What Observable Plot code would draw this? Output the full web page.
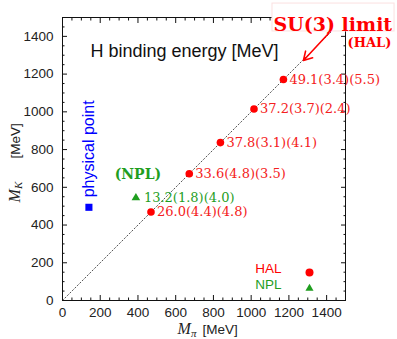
<!DOCTYPE html>
<html><head><meta charset="utf-8">
<script src="https://cdn.jsdelivr.net/npm/d3@7"></script>
<script src="https://cdn.jsdelivr.net/npm/@observablehq/plot@0.6"></script>
<style>html,body{margin:0;padding:0;background:#fff}#chart svg{display:block}</style>
</head><body><div id="chart"></div>
<script>
// HAL QCD points (M_pi = M_K, SU(3) symmetric)
const halMpi = [469, 672, 837, 1015, 1171];
const halMK = [469, 672, 837, 1015, 1171];
const halLabels = ["26.0(4.4)(4.8)", "33.6(4.8)(3.5)", "37.8(3.1)(4.1)", "37.2(3.7)(2.4)", "49.1(3.4)(5.5)"];
// NPLQCD point
const nplMpi = [389];
const nplMK = [544];
const nplLabels = ["13.2(1.8)(4.0)"];
// physical point
const physMpi = [140];
const physMK = [494];
// SU(3) limit line (M_K = M_pi)
const su3Line = [0, 1450];
// annotation arrow [x, y] from/to
const arrowFrom = [1410, 1415];
const arrowTo = [1277, 1272];
const su3Box = [1113, 1760, 1426, 1574];
// ticks
const majorTicks = [0, 200, 400, 600, 800, 1000, 1200, 1400];
const minorTicks = [50, 100, 150, 250, 300, 350, 450, 500, 550, 650, 700, 750, 850, 900, 950, 1050, 1100, 1150, 1250, 1300, 1350, 1450];
const legendNames = ["HAL", "NPL"];

const RED = "#ff0000", RED_T = "#f42020", GREEN = "#1f9e1f", BLUE = "#0000ff";
const SANS = "'Liberation Sans', Arial, Helvetica, sans-serif";
const SERIF = "'DejaVu Serif', serif";
const TSERIF = "'Liberation Serif', 'Times New Roman', serif";

const hal = halMpi.map((m, i) => ({mpi: m, mk: halMK[i], label: halLabels[i]}));
const npl = nplMpi.map((m, i) => ({mpi: m, mk: nplMK[i], label: nplLabels[i]}));
const phys = physMpi.map((m, i) => ({mpi: m, mk: physMK[i]}));

const tickAxes = [];
for (const [ticks, len] of [[majorTicks, 5], [minorTicks, 2.5]]) {
  tickAxes.push(
    Plot.axisY(ticks, {anchor: "left", tickSize: len, dx: len, fill: "none", label: null, stroke: "#111"}),
    Plot.axisY(ticks, {anchor: "right", tickSize: len, dx: -len, fill: "none", label: null, stroke: "#111"}),
    Plot.axisX(ticks, {anchor: "bottom", tickSize: len, dy: -len, fill: "none", label: null, stroke: "#111"}),
    Plot.axisX(ticks, {anchor: "top", tickSize: len, dy: len, fill: "none", label: null, stroke: "#111"})
  );
}

const chart = Plot.plot({
  width: 397, height: 339,
  marginLeft: 62, marginRight: 52, marginTop: 17, marginBottom: 39,
  style: {fontFamily: SANS, fontSize: "13.5px", color: "#222", background: "white", overflow: "visible"},
  x: {domain: [0, 1500], axis: null},
  y: {domain: [0, 1500], axis: null},
  marks: [
    Plot.line(su3Line, {x: d => d, y: d => d, stroke: "#555", strokeWidth: 1, strokeDasharray: "1.3,2.2"}),
    Plot.frame({stroke: "#111", strokeWidth: 1}),
    ...tickAxes,
    Plot.axisY(majorTicks, {anchor: "left", tickSize: 0, tickPadding: 9, tickFormat: d => `${d}`, label: null, fill: "#222", fontSize: 13.5}),
    Plot.axisX(majorTicks, {anchor: "bottom", tickSize: 0, tickPadding: 7, tickFormat: d => `${d}`, label: null, fill: "#222", fontSize: 13.5}),
    // axis labels
    Plot.text(["M"], {frameAnchor: "bottom", text: d => d, dx: -26.5, dy: 33, textAnchor: "start", fontFamily: TSERIF, fontStyle: "italic", fontSize: 16, fill: "#222"}),
    Plot.text(["π"], {frameAnchor: "bottom", text: d => d, dx: -13, dy: 36, textAnchor: "start", fontFamily: TSERIF, fontStyle: "italic", fontSize: 11, fill: "#222"}),
    Plot.text(["[MeV]"], {frameAnchor: "bottom", text: d => d, dx: -1.5, dy: 33, textAnchor: "start", fontSize: 13.5, fill: "#222"}),
    Plot.text(["M"], {frameAnchor: "left", text: d => d, dx: -48, dy: 43.5, rotate: -90, textAnchor: "start", fontFamily: TSERIF, fontStyle: "italic", fontSize: 16, fill: "#222"}),
    Plot.text(["K"], {frameAnchor: "left", text: d => d, dx: -44.5, dy: 30, rotate: -90, textAnchor: "start", fontFamily: TSERIF, fontStyle: "italic", fontSize: 11, fill: "#222"}),
    Plot.text(["[MeV]"], {frameAnchor: "left", text: d => d, dx: -47, dy: -0.5, rotate: -90, textAnchor: "start", fontSize: 13.5, fill: "#222"}),
    // title
    Plot.text(["H binding energy [MeV]"], {frameAnchor: "top-left", text: d => d, dx: 28, dy: 26.5, textAnchor: "start", fontSize: 18, fill: "#111"}),
    // data
    Plot.dot(phys, {x: "mpi", y: "mk", symbol: "square", r: 4, fill: BLUE, stroke: null}),
    Plot.text(phys, {x: "mpi", y: "mk", text: () => "physical point", rotate: -90, textAnchor: "start", dy: -10, fontSize: 16, fill: BLUE}),
    Plot.dot(npl, {x: "mpi", y: "mk", symbol: "triangle", r: 3.2, fill: GREEN, stroke: null}),
    Plot.text(npl, {x: "mpi", y: "mk", text: "label", textAnchor: "start", dx: 8, fontFamily: SERIF, fontSize: 13, fill: GREEN}),
    Plot.text(npl, {x: "mpi", y: "mk", text: () => "(NPL)", textAnchor: "middle", dx: 2, dy: -23, fontFamily: SERIF, fontWeight: "bold", fontSize: 14, fill: GREEN}),
    Plot.dot(hal, {x: "mpi", y: "mk", r: 3.8, fill: RED, stroke: null}),
    Plot.text(hal, {x: "mpi", y: "mk", text: "label", textAnchor: "start", dx: 6, fontFamily: SERIF, fontSize: 13, fill: RED_T}),
    // SU(3) limit annotation
    Plot.rect([su3Box], {x1: d => d[0], x2: d => d[1], y1: d => d[2], y2: d => d[3], fill: "white", stroke: "#fbe0e0", strokeWidth: 1}),
    Plot.text(["SU(3) limit"], {frameAnchor: "top-right", text: d => d, dx: -72, dy: -0.5, textAnchor: "start", fontFamily: SERIF, fontWeight: "bold", fontSize: 19, fill: RED}),
    Plot.text(["(HAL)"], {frameAnchor: "top-right", text: d => d, dx: 2, dy: 20, textAnchor: "start", fontFamily: SERIF, fontWeight: "bold", fontSize: 13, fill: RED}),
    Plot.arrow([0], {x1: () => arrowFrom[0], y1: () => arrowFrom[1], x2: () => arrowTo[0], y2: () => arrowTo[1], stroke: RED, strokeWidth: 1.6, headLength: 9}),
    // legend
    Plot.text([legendNames[0]], {frameAnchor: "bottom-right", text: d => d, dx: -64, dy: -28, textAnchor: "end", fontSize: 13.5, fill: RED}),
    Plot.text([legendNames[1]], {frameAnchor: "bottom-right", text: d => d, dx: -64, dy: -12, textAnchor: "end", fontSize: 13.5, fill: GREEN}),
    Plot.dot([legendNames[0]], {frameAnchor: "bottom-right", dx: -36, dy: -28, r: 4, fill: RED, stroke: null}),
    Plot.dot([legendNames[1]], {frameAnchor: "bottom-right", dx: -36, dy: -12, symbol: "triangle", r: 3, fill: GREEN, stroke: null})
  ]
});
document.getElementById("chart").appendChild(chart);
</script>
</body></html>
